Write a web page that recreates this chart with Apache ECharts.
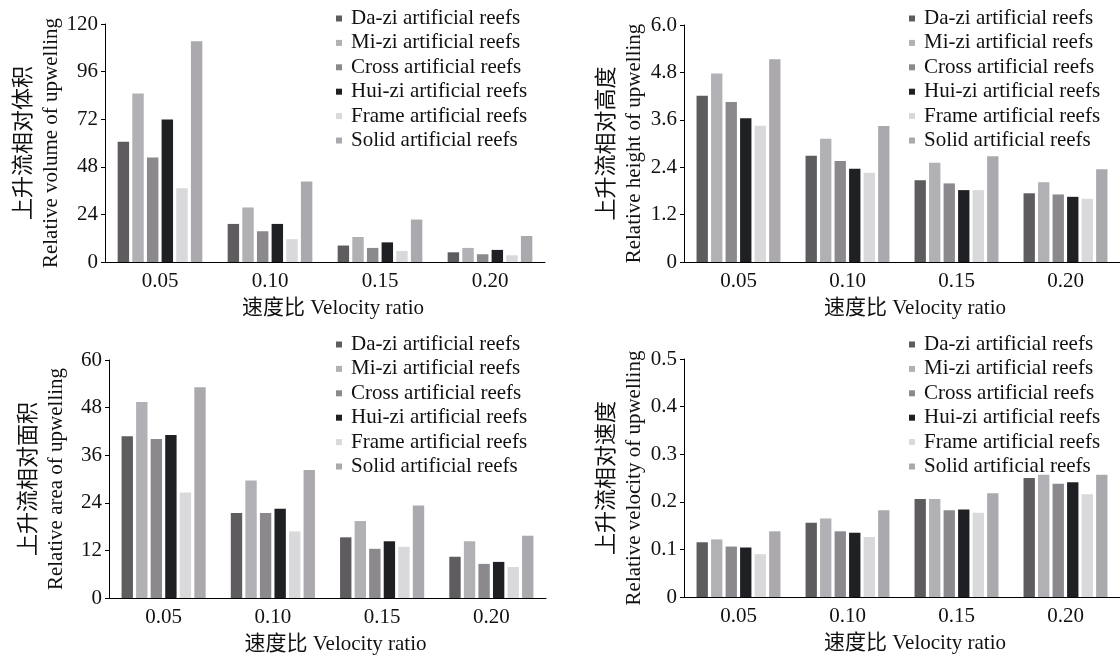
<!DOCTYPE html>
<html>
<head>
<meta charset="utf-8">
<script src="https://cdn.jsdelivr.net/npm/echarts@6/dist/echarts.min.js"></script>
<style>
html,body{margin:0;padding:0;background:#fff;}
#c{width:1120px;height:657px;}
</style>
</head>
<body>
<div id="c"></div>
<script>
// ---------- data ----------
const categories = ['0.05', '0.10', '0.15', '0.20'];
const seriesNames = ['Da-zi artificial reefs', 'Mi-zi artificial reefs', 'Cross artificial reefs',
  'Hui-zi artificial reefs', 'Frame artificial reefs', 'Solid artificial reefs'];

// Relative volume of upwelling (per reef type, over velocity ratios)
const volDazi  = [60.6, 19.2, 8.3, 4.9];
const volMizi  = [85.0, 27.5, 12.6, 7.1];
const volCross = [52.7, 15.5, 7.1, 3.9];
const volHuizi = [71.9, 19.2, 9.9, 6.1];
const volFrame = [37.2, 11.5, 5.6, 3.4];
const volSolid = [111.3, 40.6, 21.4, 13.1];

// Relative height of upwelling
const hgtDazi  = [4.21, 2.69, 2.07, 1.74];
const hgtMizi  = [4.77, 3.12, 2.51, 2.02];
const hgtCross = [4.05, 2.56, 1.99, 1.71];
const hgtHuizi = [3.64, 2.36, 1.82, 1.65];
const hgtFrame = [3.45, 2.26, 1.82, 1.60];
const hgtSolid = [5.13, 3.44, 2.68, 2.35];

// Relative area of upwelling
const areaDazi  = [40.8, 21.4, 15.3, 10.4];
const areaMizi  = [49.4, 29.6, 19.4, 14.3];
const areaCross = [40.1, 21.4, 12.4, 8.6];
const areaHuizi = [41.1, 22.5, 14.3, 9.1];
const areaFrame = [26.6, 16.8, 12.9, 7.8];
const areaSolid = [53.1, 32.3, 23.3, 15.7];

// Relative velocity of upwelling
const velDazi  = [0.115, 0.156, 0.206, 0.250];
const velMizi  = [0.121, 0.165, 0.206, 0.257];
const velCross = [0.106, 0.138, 0.182, 0.238];
const velHuizi = [0.104, 0.135, 0.184, 0.241];
const velFrame = [0.090, 0.126, 0.177, 0.216];
const velSolid = [0.138, 0.182, 0.218, 0.257];

// y-axis scales
const volTicks  = {max: 120, interval: 24};
const hgtTicks  = {max: 6.0, interval: 1.2};
const areaTicks = {max: 60, interval: 12};
const velTicks  = {max: 0.5, interval: 0.1};

const yNamesCn = ['上升流相对体积', '上升流相对高度', '上升流相对面积', '上升流相对速度'];
const yNamesEn = ['Relative volume of upwelling', 'Relative height of upwelling',
  'Relative area of upwelling', 'Relative velocity of upwelling'];
const xName = '速度比 Velocity ratio';

// ---------- styling ----------
const colors = ['#5f5c60', '#b1b0b4', '#8b898d', '#1f2023', '#d9d9db', '#aca9ae'];
const FONT = "'Liberation Serif','Times New Roman','Noto Sans CJK SC',serif";
const CJK = "'Noto Sans CJK SC',serif";
const TXT = '#111';
const FS = 21;

const panels = [
  {data: [volDazi, volMizi, volCross, volHuizi, volFrame, volSolid], ticks: volTicks, dec: 0,
   grid: {left: 105, top: 24, width: 440, height: 238}, legend: {left: 336, top: 8}, nameGap: 41, xPad: 16},
  {data: [hgtDazi, hgtMizi, hgtCross, hgtHuizi, hgtFrame, hgtSolid], ticks: hgtTicks, dec: 1,
   grid: {left: 684, top: 25, width: 440, height: 237}, legend: {left: 909, top: 8}, nameGap: 37, xPad: 26},
  {data: [areaDazi, areaMizi, areaCross, areaHuizi, areaFrame, areaSolid], ticks: areaTicks, dec: 0,
   grid: {left: 109, top: 360, width: 437, height: 238}, legend: {left: 336, top: 334}, nameGap: 40, xPad: 16},
  {data: [velDazi, velMizi, velCross, velHuizi, velFrame, velSolid], ticks: velTicks, dec: 1,
   grid: {left: 684, top: 359, width: 440, height: 238}, legend: {left: 909, top: 334}, nameGap: 37, xPad: 26}
];

const option = {
  backgroundColor: '#fff',
  animation: false,
  grid: [], xAxis: [], yAxis: [], series: [], legend: []
};

panels.forEach((p, i) => {
  option.grid.push(Object.assign({containLabel: false}, p.grid));
  option.xAxis.push({
    type: 'category', gridIndex: i, data: categories,
    axisLine: {lineStyle: {color: '#000', width: 1}},
    axisTick: {show: false},
    axisLabel: {color: TXT, fontFamily: FONT, fontSize: FS, margin: 9},
    name: xName, nameLocation: 'middle', nameGap: 36,
    nameTextStyle: {color: TXT, fontFamily: FONT, fontSize: FS, padding: [0, 0, 0, p.xPad]}
  });
  option.yAxis.push({
    type: 'value', gridIndex: i, min: 0, max: p.ticks.max, interval: p.ticks.interval,
    axisLine: {show: true, lineStyle: {color: '#000', width: 1}},
    axisTick: {show: true, length: 4, lineStyle: {color: '#000'}},
    splitLine: {show: false},
    axisLabel: {color: TXT, fontFamily: FONT, fontSize: FS, margin: 7,
      formatter: v => v === 0 ? '0' : v.toFixed(p.dec)},
    name: '{cn|' + yNamesCn[i] + '}\n{en|' + yNamesEn[i] + '}',
    nameLocation: 'middle', nameGap: p.nameGap, nameRotate: 90,
    nameTextStyle: {color: TXT, fontFamily: FONT, fontSize: FS, align: 'center',
      rich: {
        cn: {fontFamily: CJK, fontSize: 22, lineHeight: 32, color: TXT},
        en: {fontFamily: FONT, fontSize: FS, lineHeight: 26, color: TXT}
      }}
  });
  p.data.forEach((arr, k) => {
    option.series.push({
      type: 'bar', name: seriesNames[k], xAxisIndex: i, yAxisIndex: i, data: arr,
      barCategoryGap: '23%', barGap: '28%',
      itemStyle: {color: colors[k]}
    });
  });
  option.legend.push({
    data: seriesNames, orient: 'vertical', left: p.legend.left, top: p.legend.top,
    icon: 'rect', itemWidth: 6, itemHeight: 6, itemGap: 3.4, padding: 0,
    selectedMode: false,
    textStyle: {color: TXT, fontFamily: FONT, fontSize: FS, lineHeight: 21, padding: [0, 0, 0, 4]}
  });
});

const chart = echarts.init(document.getElementById('c'), null, {renderer: 'canvas'});
chart.setOption(option);
</script>
</body>
</html>
